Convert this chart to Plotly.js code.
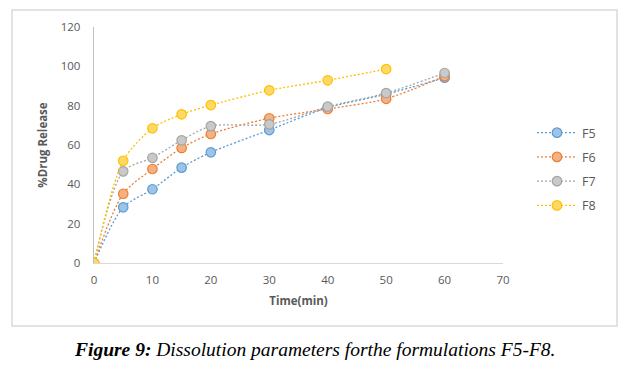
<!DOCTYPE html>
<html>
<head>
<meta charset="utf-8">
<script src="https://cdn.plot.ly/plotly-3.0.1.min.js"></script>
<style>
html,body{margin:0;padding:0;background:#fff;}
#chart{width:636px;height:379px;}
</style>
</head>
<body>
<div id="chart"></div>
<script>
const time = [0, 5, 10, 15, 20, 30, 40, 50, 60];
const timeF8 = [0, 5, 10, 15, 20, 30, 40, 50];
const F5 = [0, 28.3, 37.5, 48.5, 56.3, 67.6, 79.0, 85.8, 94.2];
const F6 = [0, 35.2, 47.8, 58.5, 65.6, 73.6, 78.3, 83.5, 95.0];
const F7 = [0, 46.6, 53.5, 62.4, 69.6, 70.5, 79.5, 86.4, 96.6];
const F8 = [0, 52.0, 68.5, 75.6, 80.3, 87.8, 92.9, 98.6];
const seriesNames = ['F5', 'F6', 'F7', 'F8'];
const xTicks = [0, 10, 20, 30, 40, 50, 60, 70];
const yTicks = [0, 20, 40, 60, 80, 100, 120];

const lineColors = ['#5B9BD5', '#ED7D31', '#A5A5A5', '#FFC000'];
const fillColors = ['#9DC3E6', '#F4B183', '#C9C9C9', '#FFD966'];
const xs = [time, time, time, timeF8];
const ys = [F5, F6, F7, F8];

const traces = seriesNames.map((n, i) => ({
  x: xs[i], y: ys[i], name: n, type: 'scatter', mode: 'lines+markers',
  legendgroup: n,
  line: {color: lineColors[i], width: 1.3, dash: '2px,2px', shape: 'spline', smoothing: 0.8},
  marker: {size: 9.5, color: fillColors[i], line: {color: lineColors[i], width: 1.2}}
}));

const L = 94, R = 503, T = 27, B = 263;
const W = R - L, H = B - T;
const px = p => (p - L) / W;
const py = p => (B - p) / H;

const layout = {
  width: 636, height: 379,
  margin: {l: L, r: 636 - R, t: T, b: 379 - B},
  paper_bgcolor: '#ffffff', plot_bgcolor: '#ffffff',
  font: {family: 'Open Sans, Liberation Sans, sans-serif', color: '#595959', size: 11.5},
  showlegend: true,
  legend: {x: px(532), y: py(118), xanchor: 'left', yanchor: 'top',
    font: {size: 12.5, color: '#595959'}, tracegroupgap: 5, itemwidth: 40,
    bgcolor: 'rgba(0,0,0,0)'},
  xaxis: {range: [0, 70], tickvals: xTicks, showgrid: false, zeroline: false,
    showline: true, linecolor: '#D9D9D9', linewidth: 1.3, ticks: '',
    ticklabelstandoff: 6,
    title: {text: '<b>Time(min)</b>', font: {size: 11.5, color: '#595959'}, standoff: 11}},
  yaxis: {range: [0, 120], tickvals: yTicks, showgrid: false, zeroline: false,
    showline: true, linecolor: '#BFBFBF', linewidth: 1.3, ticks: '',
    ticklabelstandoff: 10,
    title: {text: '<b>%Drug Release</b>', font: {size: 11.5, color: '#595959'}, standoff: 10}},
  shapes: [{type: 'rect', xref: 'paper', yref: 'paper',
    x0: px(12), x1: px(617), y0: py(326), y1: py(10),
    line: {color: '#D9D9D9', width: 1.5}, fillcolor: 'rgba(0,0,0,0)', layer: 'below'}],
  annotations: [{xref: 'paper', yref: 'paper', x: px(314), y: py(349),
    xanchor: 'center', yanchor: 'middle', showarrow: false,
    text: '<b><i>Figure 9:</i></b><i> Dissolution parameters forthe formulations F5-F8.</i>',
    font: {family: 'Liberation Serif, Times New Roman, serif', size: 19.5, color: '#000'}}]
};

Plotly.newPlot('chart', traces, layout, {displayModeBar: false, staticPlot: true});
</script>
</body>
</html>
